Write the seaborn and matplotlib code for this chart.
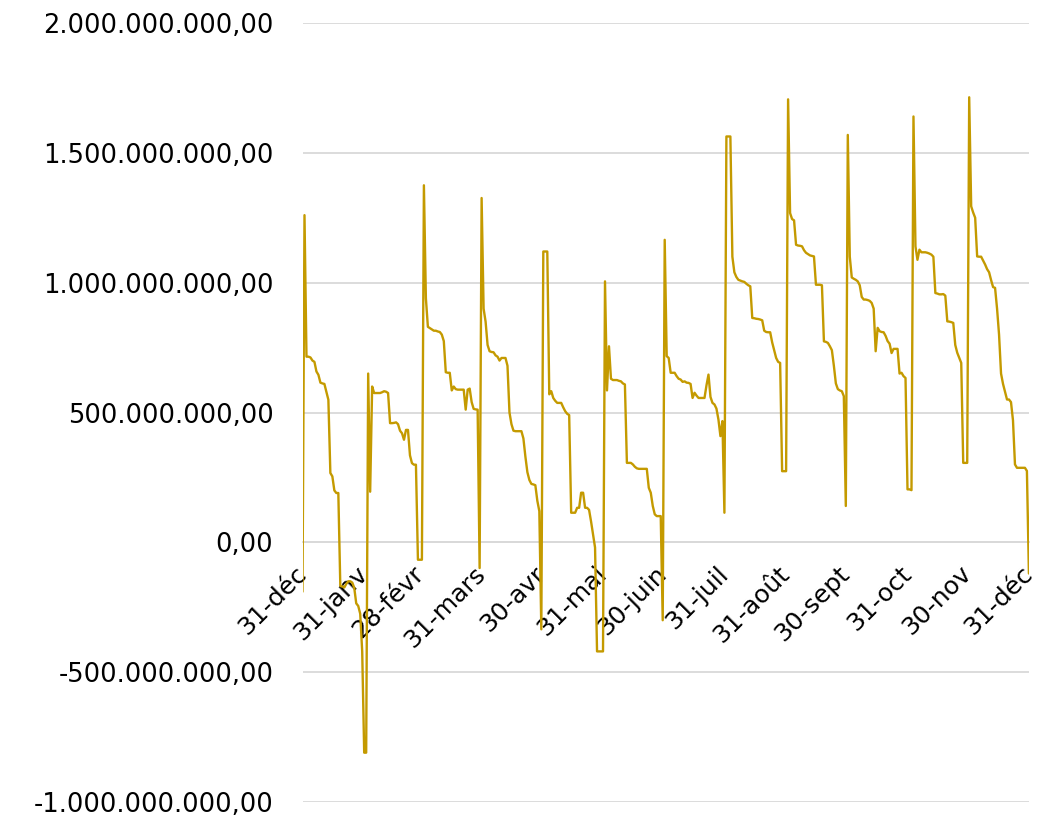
import numpy as np
import pandas as pd
import matplotlib
matplotlib.use("Agg")
import matplotlib.pyplot as plt
import seaborn as sns

# Daily balance (in millions), from 31-déc (day 0) to 31-déc (day 365)
dec_prev = [-190]
jan = [1260, 715, 715, 712, 700, 695, 658, 645, 615, 612, 610, 580, 549, 267, 254,
       200, 190, 190, -168, -170, -174, -160, -150, -150, -155, -175, -235, -245,
       -275, -420, -810]
feb = [-810, 650, 195, 600, 575, 575, 575, 575, 578, 582, 580, 575, 459, 459, 460,
       462, 455, 430, 420, 395, 433, 433, 335, 305, 299, 299, -67, -67]
mar = [-67, 1375, 940, 830, 825, 820, 815, 815, 812, 810, 800, 775, 655, 653, 653,
       585, 600, 590, 588, 588, 588, 588, 511, 588, 592, 540, 514, 512, 511, -99, 1326]
apr = [900, 850, 760, 736, 733, 732, 720, 715, 700, 710, 710, 710, 680, 500, 455,
       430, 428, 428, 428, 428, 400, 330, 270, 240, 225, 223, 220, 160, 120, -335]
may = [1120, 1120, 1120, 570, 582, 556, 545, 537, 537, 537, 520, 505, 495, 490, 114,
       114, 114, 133, 133, 191, 191, 133, 133, 125, 80, 30, -20, -420, -420, -420, -420]
jun = [1005, 585, 755, 630, 625, 625, 625, 622, 620, 612, 608, 306, 306, 306, 300,
       291, 285, 283, 283, 283, 283, 283, 210, 191, 140, 108, 101, 101, 101, -300]
jul = [1165, 717, 710, 653, 653, 653, 640, 630, 627, 618, 620, 615, 614, 610, 556,
       576, 565, 556, 556, 556, 556, 605, 646, 560, 537, 531, 515, 473, 409, 467, 114]
aug = [1563, 1563, 1563, 1100, 1040, 1022, 1011, 1008, 1005, 1003, 996, 990, 986,
       864, 863, 861, 860, 858, 855, 815, 810, 809, 809, 770, 740, 710, 695, 691,
       274, 274, 274]
sep = [1706, 1268, 1245, 1240, 1146, 1143, 1142, 1140, 1125, 1115, 1110, 1105, 1103,
       1101, 992, 992, 992, 990, 774, 772, 768, 755, 740, 680, 612, 590, 585, 582,
       563, 140]
oct_ = [1569, 1100, 1020, 1015, 1011, 1005, 990, 945, 935, 935, 933, 930, 922, 900,
        736, 826, 813, 810, 809, 795, 775, 765, 729, 745, 745, 745, 650, 653, 640,
        633, 204]
nov = [204, 201, 1640, 1140, 1088, 1127, 1117, 1117, 1117, 1115, 1112, 1108, 1100,
       960, 958, 955, 955, 956, 950, 851, 850, 848, 845, 760, 730, 710, 691, 306,
       306, 306]
dec = [1714, 1294, 1270, 1250, 1101, 1100, 1100, 1085, 1070, 1052, 1040, 1010, 983,
       980, 900, 800, 650, 610, 580, 550, 550, 540, 470, 300, 287, 287, 287, 287,
       287, 275, -120]

month_end_days = [0, 31, 59, 90, 120, 151, 181, 212, 243, 273, 304, 334, 365]
month_labels = ["31-déc", "31-janv", "28-févr", "31-mars", "30-avr", "31-mai",
                "30-juin", "31-juil", "31-août", "30-sept", "31-oct", "30-nov", "31-déc"]
ytick_values = [-1e9, -5e8, 0, 5e8, 1e9, 1.5e9, 2e9]
ytick_labels = ["-1.000.000.000,00", "-500.000.000,00", "0,00", "500.000.000,00",
                "1.000.000.000,00", "1.500.000.000,00", "2.000.000.000,00"]

values_m = dec_prev + jan + feb + mar + apr + may + jun + jul + aug + sep + oct_ + nov + dec
df = pd.DataFrame({"day": np.arange(len(values_m)),
                   "value": np.array(values_m, dtype=float) * 1e6})

sns.set_theme(style="white")
plt.rcParams['font.family'] = ['DejaVu Sans']

W, H = 1053, 817
fig = plt.figure(figsize=(W / 100, H / 100), dpi=100)
left, right, top, bottom = 302.5, 1028.9, 23, 802
ax = fig.add_axes([left / W, 1 - bottom / H, (right - left) / W, (bottom - top) / H])

sns.lineplot(data=df, x="day", y="value", color="#C49A00", linewidth=1.7, ax=ax)

ax.set_xlim(0, 365)
ax.set_ylim(-1e9, 2e9)
ax.set_yticks(ytick_values)
ax.set_yticklabels(ytick_labels, fontsize=18.5, color="#000000")
ax.grid(axis="y", color="#D9D9D9", linewidth=1.3)
ax.set_axisbelow(True)
for s in ["top", "right", "left"]:
    ax.spines[s].set_visible(False)
ax.spines["bottom"].set_position(("data", 0))
ax.spines["bottom"].set_color("#D9D9D9")
ax.spines["bottom"].set_linewidth(1.3)
ax.spines["bottom"].set_zorder(0)

ax.set_xticks(month_end_days)
ax.set_xticklabels(month_labels, rotation=45, ha="right", va="center",
                   rotation_mode="anchor", fontsize=18, color="#000000")
ax.tick_params(axis="x", length=7, width=1.3, color="#D9D9D9", pad=13, direction="out")
ax.tick_params(axis="y", length=0, pad=21)
ax.set_xlabel("")
ax.set_ylabel("")

fig.savefig("out.png", dpi=100, facecolor="white")
